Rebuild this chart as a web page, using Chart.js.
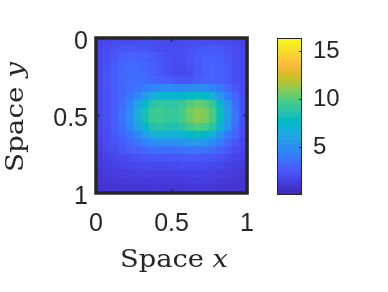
<!DOCTYPE html>
<html><head><meta charset="utf-8">
<script src="https://cdn.jsdelivr.net/npm/chart.js@4"></script>
<style>
html,body{margin:0;padding:0;background:#fff;}
body{width:388px;height:292px;overflow:hidden;position:relative;}
#c1{position:absolute;left:0;top:0;}
#c2{position:absolute;left:262px;top:0;}
</style></head>
<body>
<canvas id="c1" width="270" height="292"></canvas>
<canvas id="c2" width="126" height="292"></canvas>
<script>
// ---- data ----
const xEdges = [0,0.05,0.1,0.15,0.2,0.25,0.3,0.35,0.4,0.45,0.5,0.55,0.6,0.65,0.7,0.75,0.8,0.85,0.9,0.95,1];
const yEdges = [0,0.05,0.1,0.15,0.2,0.25,0.3,0.35,0.4,0.45,0.5,0.55,0.6,0.65,0.7,0.75,0.8,0.85,0.9,0.95,1];
const values = [
[1.6,1.8,2.0,2.1,2.2,2.2,2.2,2.1,2.0,1.9,1.9,2.0,2.1,2.2,2.2,2.2,2.1,2.0,1.8,1.6],
[1.7,2.0,2.3,2.5,2.6,2.6,2.5,2.3,2.1,2.0,2.0,2.1,2.3,2.5,2.6,2.6,2.5,2.3,2.0,1.7],
[1.8,2.2,2.6,2.9,3.1,3.1,3.0,2.7,2.4,2.2,2.1,2.2,2.4,2.7,2.9,2.9,2.8,2.5,2.1,1.8],
[1.8,2.3,2.8,3.2,3.4,3.4,3.2,2.9,2.6,2.2,2.0,2.0,2.3,2.7,3.0,3.1,2.9,2.6,2.2,1.8],
[1.9,2.4,2.9,3.3,3.5,3.5,3.3,3.0,2.7,2.3,2.0,1.9,2.1,2.6,2.9,3.0,2.9,2.6,2.2,1.8],
[1.9,2.4,2.9,3.3,3.5,3.6,3.5,3.3,3.1,2.9,2.6,2.5,2.6,2.9,3.0,3.1,2.9,2.6,2.2,1.8],
[1.9,2.4,2.8,3.2,3.6,3.9,4.3,4.6,4.8,4.8,4.8,4.8,4.9,5.0,4.9,4.5,4.0,3.3,2.6,1.9],
[1.9,2.3,2.8,3.3,3.9,4.6,5.7,6.7,7.2,7.3,7.3,7.5,7.8,7.9,7.6,6.8,5.4,4.2,3.1,2.1],
[1.9,2.3,2.8,3.5,4.5,6.0,7.6,8.7,9.1,9.0,9.0,9.4,10.0,10.4,10.1,9.1,7.4,5.3,3.5,2.2],
[1.9,2.3,2.9,3.7,4.9,6.6,8.3,9.5,9.6,9.3,9.2,9.8,10.6,11.1,10.8,9.8,8.0,5.8,3.7,2.2],
[1.9,2.3,2.9,3.7,4.9,6.5,8.2,9.4,9.5,9.2,9.1,9.7,10.5,11.0,10.7,9.7,7.9,5.7,3.7,2.2],
[1.8,2.2,2.8,3.5,4.6,6.0,7.5,8.5,8.7,8.5,8.4,8.9,9.6,9.9,9.6,8.7,7.1,5.2,3.4,2.1],
[1.7,2.1,2.6,3.2,3.9,4.7,5.8,6.7,7.0,6.9,6.9,7.2,7.7,7.9,7.6,6.7,5.3,4.1,3.0,2.0],
[1.6,2.0,2.4,2.8,3.3,3.8,4.4,4.9,5.1,5.1,5.1,5.3,5.5,5.6,5.4,4.9,4.1,3.3,2.5,1.8],
[1.5,1.8,2.1,2.5,2.8,3.1,3.3,3.5,3.6,3.6,3.6,3.7,3.8,3.9,3.8,3.5,3.1,2.6,2.1,1.6],
[1.3,1.6,1.8,2.0,2.2,2.3,2.4,2.5,2.5,2.5,2.5,2.6,2.7,2.7,2.6,2.5,2.3,2.0,1.7,1.4],
[1.2,1.4,1.5,1.7,1.8,1.8,1.9,1.9,1.9,1.9,1.9,2.0,2.0,2.0,2.0,1.9,1.8,1.6,1.4,1.2],
[1.0,1.2,1.3,1.4,1.4,1.5,1.5,1.5,1.5,1.5,1.5,1.5,1.6,1.6,1.6,1.5,1.4,1.3,1.2,1.0],
[0.9,1.0,1.1,1.2,1.2,1.2,1.2,1.2,1.2,1.2,1.2,1.3,1.3,1.3,1.3,1.3,1.2,1.1,1.0,0.9],
[0.8,0.9,1.0,1.0,1.0,1.0,1.0,1.0,1.0,1.0,1.0,1.0,1.1,1.1,1.1,1.1,1.0,1.0,0.9,0.8]
];
const xTicks = [0, 0.5, 1];
const yTicks = [0, 0.5, 1];
const cbTicks = [5, 10, 15];
const cbMin = 0;
const cbMax = 16.35;

// ---- style ----
const PARULA = [
[0.2422,0.1504,0.6603],[0.2504,0.1650,0.7076],[0.2578,0.1818,0.7511],[0.2647,0.1978,0.7952],
[0.2706,0.2147,0.8364],[0.2751,0.2342,0.8710],[0.2783,0.2559,0.8991],[0.2803,0.2782,0.9221],
[0.2813,0.3006,0.9414],[0.2810,0.3228,0.9579],[0.2795,0.3447,0.9717],[0.2760,0.3667,0.9829],
[0.2699,0.3892,0.9906],[0.2602,0.4123,0.9952],[0.2440,0.4358,0.9988],[0.2206,0.4603,0.9973],
[0.1963,0.4847,0.9892],[0.1834,0.5074,0.9798],[0.1786,0.5289,0.9682],[0.1764,0.5499,0.9520],
[0.1687,0.5703,0.9359],[0.1540,0.5902,0.9218],[0.1460,0.6091,0.9079],[0.1380,0.6276,0.8973],
[0.1248,0.6459,0.8883],[0.1113,0.6635,0.8763],[0.0952,0.6798,0.8598],[0.0689,0.6948,0.8394],
[0.0297,0.7082,0.8163],[0.0036,0.7203,0.7917],[0.0067,0.7312,0.7660],[0.0433,0.7411,0.7394],
[0.0964,0.7500,0.7120],[0.1408,0.7584,0.6842],[0.1717,0.7670,0.6554],[0.1938,0.7758,0.6251],
[0.2161,0.7843,0.5923],[0.2470,0.7918,0.5567],[0.2906,0.7973,0.5188],[0.3406,0.8008,0.4789],
[0.3909,0.8029,0.4354],[0.4456,0.8024,0.3909],[0.5044,0.7993,0.3480],[0.5616,0.7942,0.3045],
[0.6174,0.7876,0.2612],[0.6720,0.7793,0.2227],[0.7242,0.7698,0.1910],[0.7738,0.7598,0.1646],
[0.8203,0.7498,0.1535],[0.8634,0.7406,0.1596],[0.9035,0.7330,0.1774],[0.9393,0.7288,0.2100],
[0.9728,0.7298,0.2394],[0.9956,0.7434,0.2371],[0.9970,0.7659,0.2199],[0.9952,0.7893,0.2028],
[0.9892,0.8136,0.1885],[0.9786,0.8386,0.1766],[0.9676,0.8639,0.1643],[0.9610,0.8890,0.1537],
[0.9597,0.9135,0.1423],[0.9628,0.9373,0.1265],[0.9691,0.9606,0.1064],[0.9769,0.9839,0.0805]
];
function cmap(v){
  let t = (v - cbMin) / (cbMax - cbMin);
  t = Math.max(0, Math.min(1, t));
  const f = t * (PARULA.length - 1);
  const i = Math.floor(f), j = Math.min(i + 1, PARULA.length - 1), w = f - i;
  const c = PARULA[i].map((a, k) => Math.round(255 * (a + (PARULA[j][k] - a) * w)));
  return 'rgb(' + c.join(',') + ')';
}
const AXC = '#262626';
const tickFont = {family: '"Liberation Sans", Arial, sans-serif', size: 25};

function drawTitle(ctx, parts, cx, cy, rot, len, size){
  ctx.save();
  ctx.translate(cx, cy); ctx.rotate(rot);
  let w = 0;
  parts.forEach(p => { ctx.font = (p.i ? 'italic ' : '') + size + 'px "DejaVu Serif"'; w += ctx.measureText(p.t).width; });
  ctx.scale(len / w, 1);
  ctx.fillStyle = AXC; ctx.textBaseline = 'alphabetic'; ctx.textAlign = 'left';
  let x = -w / 2;
  parts.forEach(p => { ctx.font = (p.i ? 'italic ' : '') + size + 'px "DejaVu Serif"'; ctx.fillText(p.t, x, 0); x += ctx.measureText(p.t).width; });
  ctx.restore();
}

const framePlugin = {
  id: 'frame',
  afterDraw(chart){
    const {ctx, chartArea: a, scales} = chart;
    ctx.save();
    ctx.strokeStyle = AXC; ctx.lineWidth = 1.5;
    ctx.beginPath();
    xTicks.forEach(v => { const px = scales.x.getPixelForValue(v); ctx.moveTo(px, a.top); ctx.lineTo(px, a.top + 4); ctx.moveTo(px, a.bottom); ctx.lineTo(px, a.bottom - 4); });
    yTicks.forEach(v => { const py = scales.y.getPixelForValue(v); ctx.moveTo(a.left, py); ctx.lineTo(a.left + 4, py); ctx.moveTo(a.right, py); ctx.lineTo(a.right - 4, py); });
    ctx.stroke();
    ctx.lineWidth = 3.5;
    ctx.strokeRect(a.left, a.top, a.right - a.left, a.bottom - a.top);
    ctx.restore();
    drawTitle(ctx, [{t:'Space ', i:false}, {t:'x', i:true}], 174, 267, 0, 108, 24);
    drawTitle(ctx, [{t:'Space ', i:false}, {t:'y', i:true}], 23, 117, -Math.PI/2, 110, 24);
  }
};

const cells = [];
values.forEach((row, j) => row.forEach((v, i) => {
  cells.push({x: (xEdges[i] + xEdges[i+1]) / 2, y: [yEdges[j], yEdges[j+1]], v: v});
}));

new Chart(document.getElementById('c1'), {
  type: 'bar',
  data: {datasets: [{
    data: cells,
    backgroundColor: c => cmap(c.raw.v),
    borderWidth: 0,
    categoryPercentage: 1, barPercentage: 1
  }]},
  options: {
    responsive: false, animation: false, devicePixelRatio: 1,
    layout: {padding: {left: 0, top: 38, right: 17, bottom: 44}},
    plugins: {legend: {display: false}, tooltip: {enabled: false}},
    scales: {
      x: {type: 'linear', min: 0, max: 1, offset: false,
          grid: {display: false, drawTicks: false}, border: {display: false},
          ticks: {font: tickFont, color: AXC, padding: 16, maxRotation: 0, callback: v => String(v)},
          afterBuildTicks: s => { s.ticks = xTicks.map(v => ({value: v})); },
          afterFit: s => { s.height = 55; }},
      y: {type: 'linear', reverse: true, min: 0, max: 1,
          grid: {display: false, drawTicks: false}, border: {display: false},
          ticks: {font: tickFont, color: AXC, padding: 8, labelOffset: 4, callback: v => String(v)},
          afterBuildTicks: s => { s.ticks = yTicks.map(v => ({value: v})); },
          afterFit: s => { s.width = 96; }}
    }
  },
  plugins: [framePlugin]
});

// ---- colorbar ----
const nBins = 64;
const cbBins = [];
for (let k = 0; k < nBins; k++) {
  const lo = cbMin + (cbMax - cbMin) * k / nBins, hi = cbMin + (cbMax - cbMin) * (k + 1) / nBins;
  cbBins.push({x: 'c', y: [lo, hi], v: (lo + hi) / 2});
}
const cbFrame = {
  id: 'cbframe',
  afterDraw(chart){
    const {ctx, chartArea: a, scales} = chart;
    ctx.save();
    ctx.strokeStyle = AXC; ctx.lineWidth = 1;
    ctx.beginPath();
    cbTicks.forEach(v => { const py = Math.round(scales.y.getPixelForValue(v)) + 0.5; ctx.moveTo(a.right, py); ctx.lineTo(a.right - 3, py); });
    ctx.stroke();
    ctx.strokeRect(a.left + 0.5, a.top + 0.5, a.right - a.left - 1, a.bottom - a.top - 1);
    ctx.restore();
  }
};
new Chart(document.getElementById('c2'), {
  type: 'bar',
  data: {labels: ['c'], datasets: [{
    data: cbBins,
    backgroundColor: c => cmap(c.raw.v),
    borderWidth: 0,
    categoryPercentage: 1, barPercentage: 1
  }]},
  options: {
    responsive: false, animation: false, devicePixelRatio: 1,
    layout: {padding: {left: 15, top: 38, right: 0, bottom: 97}},
    plugins: {legend: {display: false}, tooltip: {enabled: false}},
    scales: {
      x: {display: false},
      y: {position: 'right', min: cbMin, max: cbMax,
          grid: {display: false, drawTicks: false}, border: {display: false},
          ticks: {font: {family: '"Liberation Sans", Arial, sans-serif', size: 24}, color: AXC, padding: 11, callback: v => String(v)},
          afterBuildTicks: s => { s.ticks = cbTicks.map(v => ({value: v})); },
          afterFit: s => { s.width = 86; }}
    }
  },
  plugins: [cbFrame]
});
</script>
</body></html>
